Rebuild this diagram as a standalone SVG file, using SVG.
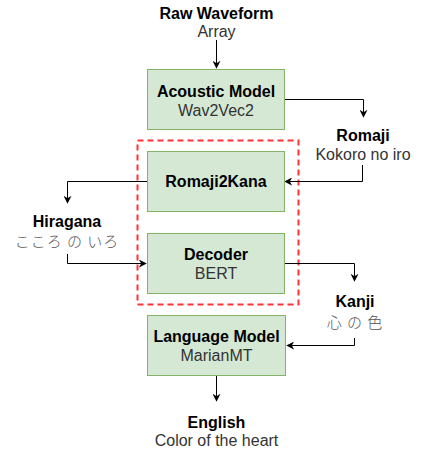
<svg xmlns="http://www.w3.org/2000/svg" width="430" height="458" viewBox="0 0 430 458">
<style>
.box{fill:#d5e8d4;stroke:#82b366;stroke-width:1}
.t{font-family:"Liberation Sans",Arial,"Noto Sans CJK JP",sans-serif;font-size:16px;text-anchor:middle}
.b{font-weight:bold;fill:#000}
.s{fill:#333}
.j{fill:#555;font-family:"Noto Sans CJK JP","Liberation Sans",sans-serif;font-weight:300;font-size:15px;letter-spacing:1px}
.c{fill:none;stroke:#000;stroke-width:1}
</style>
<defs>
<marker id="ah" viewBox="0 0 10 10" refX="9" refY="5" markerWidth="8" markerHeight="8" markerUnits="userSpaceOnUse" orient="auto">
<path d="M0,0 L10,5 L0,10 L3,5 z" fill="#000"/>
</marker>
</defs>
<rect x="137.5" y="140.5" width="161" height="164" fill="none" stroke="#ff3333" stroke-width="2" stroke-dasharray="6 4"/>
<g id="connectors">
<path class="c" d="M216.5,40 V68" marker-end="url(#ah)"/>
<path class="c" d="M284.5,99.5 H363.5 V117" marker-end="url(#ah)"/>
<path class="c" d="M362.5,165 V181.5 H285" marker-end="url(#ah)"/>
<path class="c" d="M147.5,181.5 H67.5 V203" marker-end="url(#ah)"/>
<path class="c" d="M67.5,254 V263.5 H146" marker-end="url(#ah)"/>
<path class="c" d="M285,263.5 H354.5 V281" marker-end="url(#ah)"/>
<path class="c" d="M354.5,338 V345.5 H287" marker-end="url(#ah)"/>
<path class="c" d="M216.5,375 V401" marker-end="url(#ah)"/>
</g>
<g id="raw"><text class="t b" x="216.5" y="19">Raw Waveform</text><text class="t s" x="216.5" y="37">Array</text></g>
<g id="acoustic"><rect class="box" x="147.5" y="69.5" width="137" height="60"/><text class="t b" x="216" y="97">Acoustic Model</text><text class="t s" x="216" y="116">Wav2Vec2</text></g>
<g id="romaji"><text class="t b" x="363" y="141">Romaji</text><text class="t s" x="363" y="160">Kokoro no iro</text></g>
<g id="romaji2kana"><rect class="box" x="147.5" y="151.5" width="137" height="60"/><text class="t b" x="216" y="187">Romaji2Kana</text></g>
<g id="hiragana"><text class="t b" x="67" y="227">Hiragana</text><text class="t j" x="67" y="247">こころ の いろ</text></g>
<g id="decoder"><rect class="box" x="147.5" y="233.5" width="137" height="60"/><text class="t b" x="216" y="260">Decoder</text><text class="t s" x="216" y="279">BERT</text></g>
<g id="kanji"><text class="t b" x="355" y="307">Kanji</text><text class="t j" x="355" y="328">心 の 色</text></g>
<g id="lm"><rect class="box" x="147.5" y="315.5" width="138" height="60"/><text class="t b" x="216.5" y="342">Language Model</text><text class="t s" x="216.5" y="361">MarianMT</text></g>
<g id="english"><text class="t b" x="216.5" y="428">English</text><text class="t s" x="216.5" y="446">Color of the heart</text></g>
</svg>
